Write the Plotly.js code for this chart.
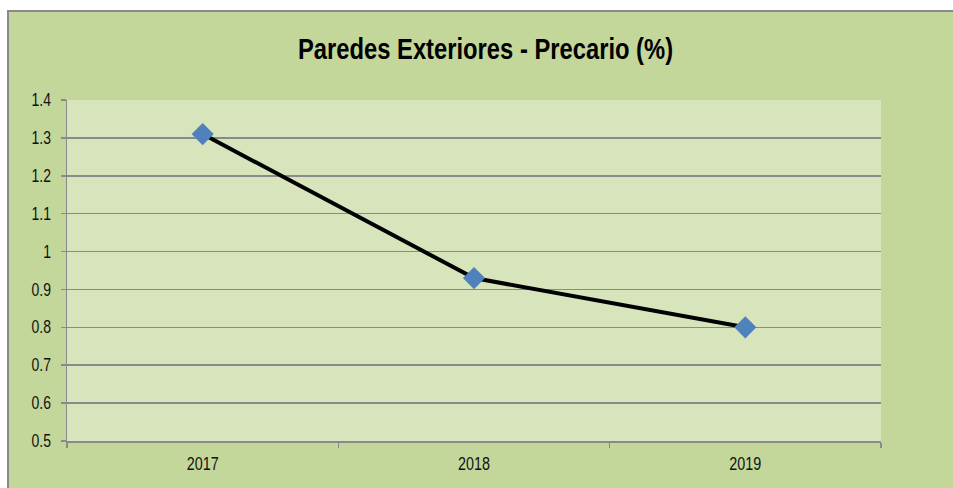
<!DOCTYPE html>
<html><head><meta charset="utf-8">
<script src="https://cdn.plot.ly/plotly-3.0.1.min.js"></script>
<style>
html,body{margin:0;padding:0;background:#fff;overflow:hidden;width:953px;height:488px;}
#bg{position:absolute;left:7px;top:10px;width:946px;height:478px;background:#c4d79b;}
#lt{position:absolute;left:7px;top:10px;width:946px;height:2px;background:#8a8a8a;}
#ll{position:absolute;left:7px;top:10px;width:2px;height:478px;background:#8a8a8a;}
#chart{position:absolute;left:9px;top:12px;width:944px;height:476px;overflow:hidden;}
</style></head>
<body><div id="bg"></div><div id="chart"></div><div id="lt"></div><div id="ll"></div>
<script>
var years = ['2017', '2018', '2019'];
var values = [1.31, 0.93, 0.80];
var yTicks = [0.5, 0.6, 0.7, 0.8, 0.9, 1, 1.1, 1.2, 1.3, 1.4];
var yTickLabels = ['0.5', '0.6', '0.7', '0.8', '0.9', '1', '1.1', '1.2', '1.3', '1.4'];
var chartTitle = 'Paredes Exteriores - Precario (%)';

var trace = {
  x: years, y: values, type: 'scatter', mode: 'lines+markers',
  line: {color: '#000000', width: 4},
  marker: {symbol: 'diamond', size: 17, color: '#4f81bd', line: {width: 0}},
  hoverinfo: 'none'
};
var tickFont = {family: '"Liberation Sans", Arial, sans-serif', size: 17.5, color: '#111'};
var layout = {
  width: 944, height: 476,
  margin: {l: 58, r: 72, t: 88, b: 47},
  paper_bgcolor: '#c4d79b', plot_bgcolor: '#d8e4bc',
  showlegend: false,
  title: {text: '<b>' + chartTitle + '</b>', x: 0.5048, xanchor: 'center', xref: 'container',
    y: 0.922, yref: 'container', yanchor: 'middle',
    font: {family: '"Liberation Sans", Arial, sans-serif', size: 29, color: '#000'}},
  xaxis: {type: 'category', range: [-0.5, 2.5], tickson: 'boundaries', ticks: 'outside', ticklen: 5,
    tickcolor: '#8a8a8a', tickwidth: 1.5, showgrid: false, showline: true, linecolor: '#8a8a8a', linewidth: 1.5,
    tickfont: tickFont, fixedrange: true, zeroline: false, ticklabelstandoff: 7},
  yaxis: {range: [0.5, 1.4], tickvals: yTicks, ticktext: yTickLabels, ticks: 'outside', ticklen: 5,
    tickcolor: '#8a8a8a', tickwidth: 1.5, showgrid: true, gridcolor: '#8a8a8a', gridwidth: 1.5,
    showline: true, linecolor: '#8a8a8a', linewidth: 1.5, tickfont: tickFont, zeroline: false, fixedrange: true,
    ticklabelstandoff: 6}
};
function squeeze(sel, s) {
  document.querySelectorAll(sel).forEach(function (t) {
    var x = parseFloat(t.getAttribute('x')) || 0;
    var tr = t.getAttribute('transform') || '';
    t.setAttribute('transform', tr + ' translate(' + x + ',0) scale(' + s + ',1) translate(' + (-x) + ',0)');
  });
}
Plotly.newPlot('chart', [trace], layout, {displayModeBar: false, staticPlot: true}).then(function () {
  squeeze('.gtitle', 0.82);
  squeeze('.xtick text', 0.82);
  squeeze('.ytick text', 0.8);
});
</script></body></html>
